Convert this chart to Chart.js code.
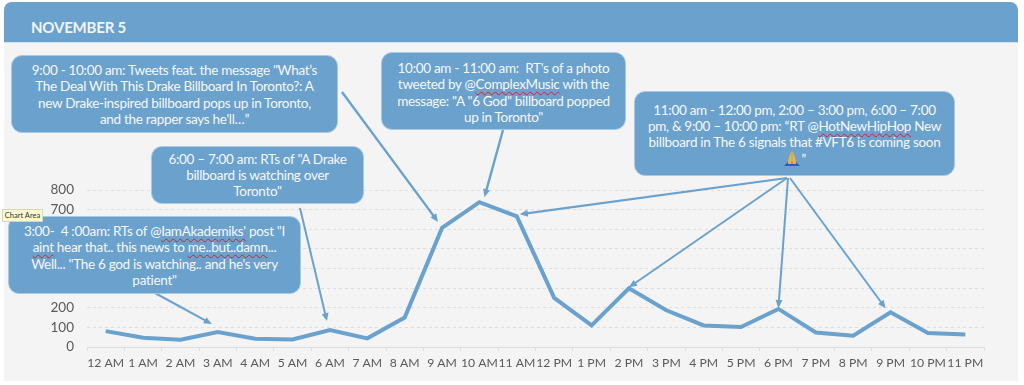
<!DOCTYPE html>
<html>
<head>
<meta charset="utf-8">
<script src="https://cdn.jsdelivr.net/npm/chart.js@4/dist/chart.umd.min.js"></script>
<style>
html, body { margin: 0; padding: 0; width: 1024px; height: 385px; background: #fff; overflow: hidden; font-family: Lato, sans-serif; }
#panel { position: absolute; left: 4px; top: 2px; width: 1014px; height: 379px; background: #f4f4f4; border-radius: 8px 8px 0 0; }
#header { position: absolute; left: 4px; top: 2px; width: 1014px; height: 40px; background: #6aa1cd; border-radius: 8px 8px 0 0; border-bottom: 1px solid #cfe0ee; }
#title { position: absolute; left: 31px; top: 17px; color: #f2f5f8; font-size: 15px; font-weight: 700; line-height: 20px; letter-spacing: -0.2px; }
#chartWrap { position: absolute; left: 0; top: 0; width: 1024px; height: 385px; }
.note { position: absolute; box-sizing: border-box; background: #6aa1cd; border: 1px solid #a9c9e3; border-radius: 11px; color: #f6f8fa; font-size: 13.5px; letter-spacing: -0.3px; line-height: 16.4px; text-align: center; white-space: nowrap; padding-top: 6px; }
.sq { text-decoration: underline wavy #d8202a 1.2px; text-underline-offset: 2px; }
#tip { position: absolute; left: 2px; top: 209px; width: 39px; height: 11px; background: #fbfbd2; border: 1px solid #d8d8b0; color: #333; font-size: 7.5px; line-height: 11px; text-align: center; white-space: nowrap; }
</style>
</head>
<body>
<div id="panel"></div>
<div id="header"></div>
<div id="title">NOVEMBER 5</div>
<div id="chartWrap"><canvas id="myChart" width="1024" height="385"></canvas></div>

<div class="note" style="left:11px;top:55px;width:327px;height:78px">9:00 - 10:00 am: Tweets feat. the message "What’s<br>The Deal With This Drake Billboard In Toronto?: A<br>new Drake-inspired billboard pops up in Toronto,<br>and the rapper says he'll…”</div>
<div class="note" style="left:151px;top:146px;width:213px;height:58px;padding-top:5px;line-height:15.8px">6:00 – 7:00 am: RTs of "A Drake<br>billboard is watching over<br>Toronto"</div>
<div class="note" style="left:8px;top:216px;width:293px;height:78px">3:00-&nbsp; 4 :00am: RTs of @<span class="sq">IamAkademiks'</span> post "I<br><span class="sq">aint</span> hear that.. this news to <span class="sq">me..but..damn</span>...<br>Well... "The 6 god is watching.. and he's very<br>patient"</div>
<div class="note" style="left:381px;top:52px;width:245px;height:78px;padding-top:7px">10:00 am - 11:00 am:&nbsp; RT's of a photo<br>tweeted by @<span class="sq">ComplexMusic</span> with the<br>message: "A "6 God" billboard popped<br>up in Toronto"</div>
<div class="note" style="left:634px;top:91px;width:321px;height:85px;padding-top:10px;line-height:16px">11:00 am - 12:00 pm, 2:00 – 3:00 pm, 6:00 – 7:00<br>pm, &amp; 9:00 – 10:00 pm: “RT @<span class="sq">HotNewHipHop</span> New<br>billboard in The 6 signals that #VFT6 is coming soon<br><svg width="18" height="17" viewBox="0 0 18 17" style="vertical-align:-3px"><path d="M1 16 L5 12 L13 12 L17 16 Z" fill="#2f5fb5"/><path d="M8.6 1 L8.6 14 L5 14 C5 9 7 4 8.6 1 Z M9.4 1 L9.4 14 L13 14 C13 9 11 4 9.4 1 Z" fill="#f2b33d"/></svg>”</div>
<div id="tip">Chart Area</div>

<script>
const hours = ['12 AM','1 AM','2 AM','3 AM','4 AM','5 AM','6 AM','7 AM','8 AM','9 AM','10 AM','11 AM','12 PM','1 PM','2 PM','3 PM','4 PM','5 PM','6 PM','7 PM','8 PM','9 PM','10 PM','11 PM']
const tweets = [81,47,37,76,42,38,86,44,150,607,738,666,250,110,299,187,110,102,194,74,57,177,71,64]
const yTicks = [0,100,200,300,400,500,600,700,800]

// callout arrows: where the arrow leaves the box, which hour it points at, gap from the point
const arrows = [
    {from: [155,293], hour: 3,  gap: [-6,-8], w: 2},
    {from: [300,208], hour: 6,  gap: [-3,-9], w: 2},
    {from: [342,92],  hour: 9,  gap: [-4,-6], w: 2.4},
    {from: [503,130], hour: 10, gap: [5,-5],  w: 2.4},
    {from: [787,178], hour: 11, gap: [3,-2],  w: 2.2},
    {from: [787,178], hour: 14, gap: [0,-1],  w: 2},
    {from: [788,178], hour: 18, gap: [0,-1],  w: 2},
    {from: [790,178], hour: 21, gap: [-5,-4], w: 2}
]

const arrowPlugin = {
    id: 'arrows',
    afterDatasetsDraw(chart) {
        const c = chart.ctx
        c.save()
        c.strokeStyle = c.fillStyle = '#6aa1cd'
        arrows.forEach((a) => {
            const tx = chart.scales.x.getPixelForValue(a.hour) + a.gap[0]
            const ty = chart.scales.y.getPixelForValue(tweets[a.hour]) + a.gap[1]
            const ang = Math.atan2(ty - a.from[1], tx - a.from[0])
            c.lineWidth = a.w
            c.beginPath()
            c.moveTo(a.from[0], a.from[1])
            c.lineTo(tx - 5*Math.cos(ang), ty - 5*Math.sin(ang))
            c.stroke()
            c.beginPath()
            c.moveTo(tx, ty)
            c.lineTo(tx - 8*Math.cos(ang) + 3.5*Math.sin(ang), ty - 8*Math.sin(ang) - 3.5*Math.cos(ang))
            c.lineTo(tx - 8*Math.cos(ang) - 3.5*Math.sin(ang), ty - 8*Math.sin(ang) + 3.5*Math.cos(ang))
            c.closePath()
            c.fill()
        })
        c.restore()
    }
}

const ctx = document.getElementById('myChart').getContext('2d')
const myChart = new Chart(ctx, {
    type: 'line',
    data: {
        labels: hours,
        datasets: [{
            label: 'Tweets',
            data: tweets,
            borderColor: '#6aa1cd',
            borderWidth: 4,
            pointRadius: 0,
            tension: 0,
            borderJoinStyle: 'miter'
        }]
    },
    plugins: [arrowPlugin],
    options: {
        responsive: false,
        animation: false,
        layout: {padding: {left: 0, right: 40, top: 190, bottom: 14}},
        plugins: {legend: {display: false}, tooltip: {enabled: false}},
        scales: {
            x: {
                offset: true,
                afterFit: (s) => { s.height = 24 },
                grid: {offset: true, drawOnChartArea: false, color: '#dddddd', tickLength: 4},
                border: {color: '#dddddd'},
                ticks: {color: '#595959', font: {family: 'Lato', size: 12.2}, padding: 5, maxRotation: 0, autoSkip: false}
            },
            y: {
                min: 0,
                max: 800,
                afterFit: (s) => { s.width = 87 },
                afterBuildTicks: (s) => { s.ticks = yTicks.map((v) => ({value: v})) },
                grid: {color: '#dedede', drawTicks: false},
                border: {display: false, dash: [3,3]},
                ticks: {color: '#595959', font: {family: 'Lato', size: 13.5}, padding: 13}
            }
        }
    }
})
</script>
</body>
</html>
